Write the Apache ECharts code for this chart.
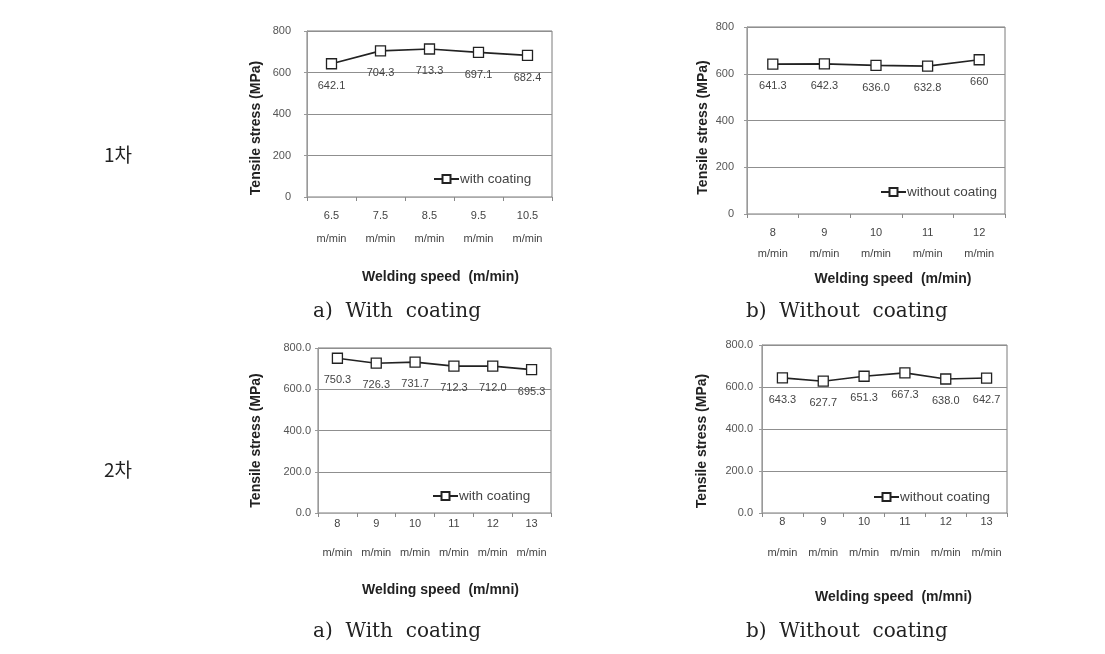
<!DOCTYPE html>
<html>
<head>
<meta charset="utf-8">
<script src="https://cdn.jsdelivr.net/npm/echarts@6/dist/echarts.min.js"></script>
<style>
  html, body { margin: 0; padding: 0; background: #fff; }
  #main { width: 1105px; height: 654px; }
</style>
</head>
<body>
<div id="main"></div>
<script>
// 1차
var speeds1a = ['6.5', '7.5', '8.5', '9.5', '10.5']
var stress1a = [642.1, 704.3, 713.3, 697.1, 682.4]
var speeds1b = ['8', '9', '10', '11', '12']
var stress1b = [641.3, 642.3, 636.0, 632.8, 660]
// 2차
var speeds2a = ['8', '9', '10', '11', '12', '13']
var stress2a = [750.3, 726.3, 731.7, 712.3, 712.0, 695.3]
var speeds2b = ['8', '9', '10', '11', '12', '13']
var stress2b = [643.3, 627.7, 651.3, 667.3, 638.0, 642.7]
var yTicks = [0, 200, 400, 600, 800]

var chart = echarts.init(document.getElementById('main'))

var font = 'Arial, "Liberation Sans", sans-serif'
var serif = '"DejaVu Serif", serif'

// one panel = grid + axes + series + legend
// labMargin / line2H: where the two lines of the x labels sit
var panels = [
  { cats: speeds1a, data: stress1a, name: 'with coating', decimals: 0,
    left: 307, top: 31, width: 245, height: 166,
    xGap: 73, xShift: 22, yGap: 44, yShift: 28, yLabMargin: 16,
    labMargin: 12, line2H: 32,
    legLeft: 433, legTop: 172, xTitle: 'Welding speed  (m/min)' },
  { cats: speeds1b, data: stress1b, name: 'without coating', decimals: 0,
    left: 747, top: 27, width: 258, height: 187,
    xGap: 58, xShift: 34, yGap: 37, yShift: 14, yLabMargin: 13,
    labMargin: 12, line2H: 28,
    legLeft: 880, legTop: 185, xTitle: 'Welding speed  (m/min)' },
  { cats: speeds2a, data: stress2a, name: 'with coating', decimals: 1,
    left: 318, top: 348, width: 233, height: 165,
    xGap: 70, xShift: 12, yGap: 55, yShift: 20, yLabMargin: 7,
    labMargin: 4, line2H: 44,
    legLeft: 432, legTop: 489, xTitle: 'Welding speed  (m/mni)' },
  { cats: speeds2b, data: stress2b, name: 'without coating', decimals: 1,
    left: 762, top: 345, width: 245, height: 168,
    xGap: 77, xShift: 18, yGap: 53, yShift: 24, yLabMargin: 9,
    labMargin: 2, line2H: 48,
    legLeft: 873, legTop: 490, xTitle: 'Welding speed  (m/mni)' }
]

var capStyle = { fontFamily: serif, fontWeight: 'normal', fontSize: 20, color: '#222' }
var korStyle = { fontFamily: '"Noto Sans CJK KR"', fontWeight: 'normal', fontSize: 19, color: '#222' }

var option = {
  animation: false,
  backgroundColor: '#fff',
  grid: [],
  xAxis: [],
  yAxis: [],
  series: [],
  legend: [],
  title: [
    { text: '1차', left: 99, top: 140, textStyle: korStyle },
    { text: '2차', left: 99, top: 455, textStyle: korStyle },
    { text: 'a)  With  coating', left: 308, top: 297, textStyle: capStyle },
    { text: 'b)  Without  coating', left: 741, top: 297, textStyle: capStyle },
    { text: 'a)  With  coating', left: 308, top: 617, textStyle: capStyle },
    { text: 'b)  Without  coating', left: 741, top: 617, textStyle: capStyle }
  ]
}

panels.forEach(function(p, i) {
  option.grid.push({
    left: p.left, top: p.top, width: p.width, height: p.height,
    show: true, borderColor: '#7a7a7a', borderWidth: 1
  })
  option.xAxis.push({
    type: 'category', gridIndex: i, data: p.cats, boundaryGap: true,
    name: p.xTitle, nameLocation: 'middle', nameGap: p.xGap,
    nameTextStyle: { fontFamily: font, fontWeight: 'bold', fontSize: 14, color: '#222', padding: [0, 0, 0, p.xShift] },
    axisLine: { lineStyle: { color: '#aaa' } },
    axisTick: { show: true, length: 4, lineStyle: { color: '#888' } },
    axisLabel: {
      margin: p.labMargin, fontFamily: font, fontSize: 11, color: '#444', interval: 0,
      formatter: function(v) { return '{a|' + v + '}\n{b|m/min}' },
      rich: {
        a: { fontFamily: font, fontSize: 11, color: '#444', lineHeight: 14 },
        b: { fontFamily: font, fontSize: 11, color: '#444', lineHeight: p.line2H }
      }
    }
  })
  option.yAxis.push({
    type: 'value', gridIndex: i, min: yTicks[0], max: yTicks[yTicks.length - 1], interval: 200,
    name: 'Tensile stress (MPa)', nameLocation: 'middle', nameGap: p.yGap,
    nameTextStyle: { fontFamily: font, fontWeight: 'bold', fontSize: 14, color: '#222', padding: [0, p.yShift, 0, 0] },
    axisLine: { show: true, lineStyle: { color: '#999' } },
    axisTick: { show: true, length: 3, lineStyle: { color: '#999' } },
    axisLabel: {
      margin: p.yLabMargin, fontFamily: font, fontSize: 11, color: '#555',
      formatter: function(v) { return v.toFixed(p.decimals) }
    },
    splitLine: { lineStyle: { color: '#8f8f8f' } }
  })
  option.series.push({
    type: 'line', name: p.name, xAxisIndex: i, yAxisIndex: i, data: p.data,
    symbol: 'rect', symbolSize: 10,
    itemStyle: { color: '#fff', borderColor: '#222', borderWidth: 1.3 },
    lineStyle: { color: '#222', width: 1.6 },
    label: {
      show: true, position: 'bottom', distance: 11,
      fontFamily: font, fontSize: 11, color: '#444',
      formatter: function(d) { return d.value === 660 ? '660' : d.value.toFixed(1) }
    }
  })
  option.legend.push({
    data: [p.name], left: p.legLeft, top: p.legTop, orient: 'horizontal',
    itemWidth: 25, itemHeight: 10, itemGap: 2, padding: 0,
    textStyle: { fontFamily: font, fontSize: 13.5, color: '#444', padding: [0, 0, 0, -4] }
  })
})

chart.setOption(option)
</script>
</body>
</html>
